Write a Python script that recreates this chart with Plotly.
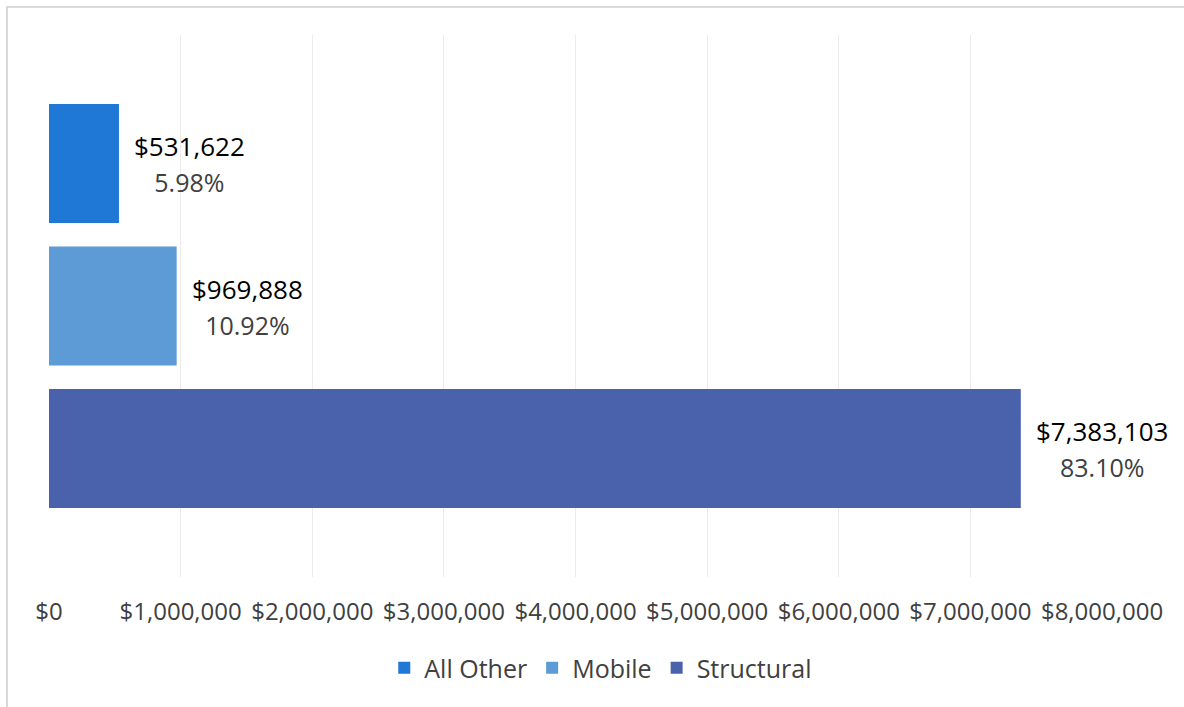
import plotly.graph_objects as go

series = ["All Other", "Mobile", "Structural"]
values = [531622, 969888, 7383103]
percents = ["5.98%", "10.92%", "83.10%"]
colors = ["#1f78d6", "#5d9bd6", "#4a62ab"]
x_ticks = [0, 1000000, 2000000, 3000000, 4000000, 5000000, 6000000, 7000000, 8000000]
x_tick_text = [f"${v:,}" for v in x_ticks]

FONT = "Open Sans"

fig = go.Figure()
for name, val, col in zip(series, values, colors):
    fig.add_trace(go.Bar(
        x=[val], y=[name], name=name, orientation="h",
        marker=dict(color=col, line=dict(width=0)),
        width=0.835, hoverinfo="skip",
    ))

annotations = []
for name, val, pct in zip(series, values, percents):
    annotations.append(dict(
        x=val, y=name, xref="x", yref="y", xanchor="left", yanchor="middle",
        xshift=13, showarrow=False, align="center",
        text=f"<span style='font-size:26px;color:#000000'>${val:,}</span><br>"
             f"<span style='font-size:25px;color:#404040'>{pct}</span>",
        font=dict(family=FONT, size=28, color="#000000"),
    ))

fig.update_layout(
    width=1184, height=707,
    margin=dict(l=49, r=82, t=35, b=130),
    paper_bgcolor="white", plot_bgcolor="white",
    barmode="overlay",
    showlegend=True,
    legend=dict(orientation="h", x=0.524, xanchor="center", y=-0.168, yanchor="middle",
                font=dict(family=FONT, size=25, color="#404040"),
                traceorder="normal", itemwidth=30),
    xaxis=dict(range=[0, 8000000], tickmode="array", tickvals=x_ticks, ticktext=x_tick_text,
               showgrid=True, gridcolor="#ebebeb", gridwidth=1,
               zeroline=False, showline=False, ticks="",
               ticklabelstandoff=18,
               tickfont=dict(family=FONT, size=24, color="#404040")),
    yaxis=dict(type="category", categoryarray=series, range=[2.902, -0.902],
               showticklabels=False, showgrid=False, zeroline=False, showline=False),
    annotations=annotations,
    shapes=[dict(type="rect", xref="paper", yref="paper",
                 x0=-0.0399, x1=1.3, y0=-0.5, y1=1.0517,
                 line=dict(color="#d9d9d9", width=2), fillcolor="rgba(0,0,0,0)",
                 layer="below")],
    font=dict(family=FONT),
)

fig.write_html("out.html", config={"displayModeBar": False},
               post_script="document.body.style.margin='0';document.body.style.overflow='hidden';")
